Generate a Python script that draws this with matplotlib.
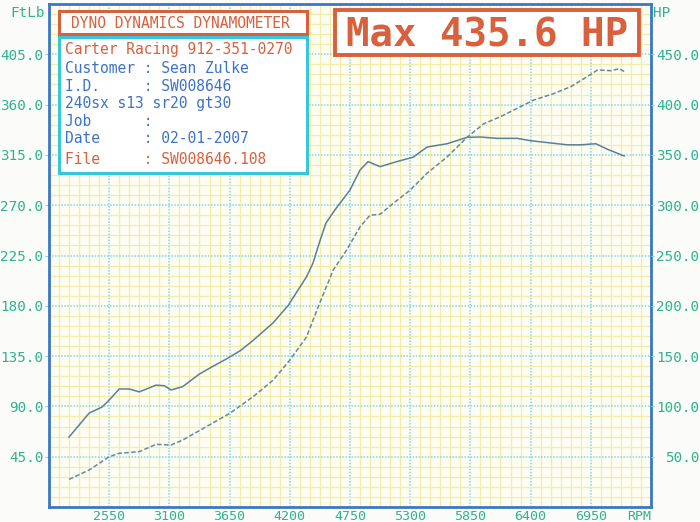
"""Dyno sheet redraw: torque (FtLb, left) and power (HP, right) against RPM."""
import numpy as np
import matplotlib
matplotlib.use("Agg")
import matplotlib.pyplot as plt
from matplotlib.patches import Rectangle
from matplotlib.ticker import FixedLocator

# --- data --------------------------------------------------------------
torque_rpm = [2183, 2367, 2486, 2550, 2642, 2733, 2825, 2978, 3054, 3115,
              3220, 3375, 3500, 3620, 3750, 3864, 4046, 4183, 4353, 4411,
              4475, 4530, 4612, 4750, 4842, 4915, 5025, 5178, 5328, 5453,
              5637, 5820, 5942, 6095, 6278, 6400, 6553, 6737, 6858, 6996,
              7103, 7255]
torque_ftlb = [62.6, 84.0, 89.5, 95.7, 105.6, 105.6, 103.0, 109.0, 108.5, 104.7,
               107.6, 119.0, 126.0, 132.4, 140.0, 149.0, 164.6, 180.0, 206.0, 218.0,
               238.0, 254.0, 265.7, 283.6, 301.5, 309.0, 304.5, 309.0, 313.0, 322.0,
               325.0, 330.7, 331.0, 329.8, 329.8, 327.7, 326.0, 324.0, 324.0, 325.0,
               320.0, 314.0]

power_rpm = [2183, 2367, 2550, 2642, 2825, 2978, 3115, 3222, 3437, 3650,
             3864, 4047, 4200, 4353, 4470, 4597, 4720, 4842, 4933, 5025,
             5147, 5300, 5453, 5637, 5820, 5972, 6125, 6308, 6430, 6613,
             6767, 6890, 7012, 7133, 7210, 7255]
power_hp = [27.5, 36.8, 50.0, 53.4, 55.0, 62.3, 61.6, 66.6, 79.8, 93.0,
            109.6, 126.0, 146.0, 169.0, 202.0, 235.6, 255.5, 278.6, 290.0, 291.0,
            302.0, 315.0, 331.7, 348.0, 367.5, 381.0, 388.0, 398.0, 404.6, 411.0,
            417.8, 426.0, 434.4, 433.7, 435.6, 433.0]

rpm_ticks = [2550, 3100, 3650, 4200, 4750, 5300, 5850, 6400, 6950]
ftlb_ticks = [45, 90, 135, 180, 225, 270, 315, 360, 405]
hp_ticks = [50, 100, 150, 200, 250, 300, 350, 400, 450]

header_lines = [
    ("Carter Racing 912-351-0270", "orange"),
    ("Customer : Sean Zulke", "blue"),
    ("I.D.     : SW008646", "blue"),
    ("240sx s13 sr20 gt30", "blue"),
    ("Job      :", "blue"),
    ("Date     : 02-01-2007", "blue"),
    ("File     : SW008646.108", "orange"),
]
max_hp = max(power_hp)

# --- styling ----------------------------------------------------------
W, H, DPI = 700, 522, 100
ORANGE = "#d8603c"
BLUE = "#3d72c9"
TEAL = "#2fb38e"
FRAME = "#3b77c6"
CYAN = "#84d6e6"
YELLOW = "#f4ecab"
CURVE = "#58809a"
MONO = "DejaVu Sans Mono"
colors = {"orange": ORANGE, "blue": BLUE}


def fx(px):
    return px / W


def fy(py):
    return 1 - py / H


fig = plt.figure(figsize=(W / DPI, H / DPI), dpi=DPI, facecolor="#fbfcfa")
ax = fig.add_axes([fx(49), fy(507), fx(602), 503 / H])
ax.set_facecolor("#fefdf2")
ax.set_xlim(2000, 7500)
ax.set_ylim(0, 450)

# paper grid: yellow minor, cyan dotted major
ax.xaxis.set_minor_locator(FixedLocator(np.arange(2000, 7500, 550 / 6)))
ax.yaxis.set_minor_locator(FixedLocator(np.arange(0, 450, 9)))
ax.grid(which="minor", color=YELLOW, lw=0.9, zorder=0)
ax.set_xticks(rpm_ticks + [7500])
ax.set_xticklabels([str(r) for r in rpm_ticks] + ["RPM"])
ax.set_yticks(ftlb_ticks)
ax.set_yticklabels([f"{v:.1f}" for v in ftlb_ticks])
ax.grid(which="major", color=CYAN, lw=1.1, ls=(0, (1, 1)), zorder=0)
ax.set_axisbelow(True)
ax.tick_params(which="minor", length=0)
ax.tick_params(axis="x", length=0, pad=2, labelcolor=TEAL, labelsize=9.6)
ax.tick_params(axis="y", length=3, color=CYAN, pad=1, labelcolor=TEAL,
               labelsize=10.3)
for lbl in ax.get_xticklabels() + ax.get_yticklabels():
    lbl.set_family(MONO)
ax.get_xticklabels()[-1].set_horizontalalignment("right")
for s in ax.spines.values():
    s.set_color(FRAME)
    s.set_linewidth(2)

ax.plot(torque_rpm, torque_ftlb, color=CURVE, lw=1.1, zorder=3)

ax2 = ax.twinx()
ax2.set_ylim(0, 500)
ax2.set_yticks(hp_ticks)
ax2.set_yticklabels([f"{v:.1f}" for v in hp_ticks])
ax2.tick_params(axis="y", length=2, color=CYAN, pad=33, labelcolor=TEAL,
                labelsize=10.3)
for lbl in ax2.get_yticklabels():
    lbl.set_family(MONO)
    lbl.set_horizontalalignment("right")
for s in ax2.spines.values():
    s.set_visible(False)
ax2.plot(power_rpm, power_hp, color="#5d8ba2", lw=1.1, ls=(0, (3, 1.5)),
         zorder=3)

# axis unit captions
fig.text(fx(45), fy(17), "FtLb", ha="right", va="baseline", color=TEAL,
         family=MONO, fontsize=10.3)
fig.text(fx(653), fy(17), "HP", ha="left", va="baseline", color=TEAL,
         family=MONO, fontsize=10.3)


# header boxes
def box(x0, y0, x1, y1, ec, lw):
    fig.patches.append(Rectangle((fx(x0), fy(y1)), fx(x1 - x0), (y1 - y0) / H,
                                 transform=fig.transFigure, facecolor="white",
                                 edgecolor=ec, lw=lw, zorder=5))


box(59, 11, 307, 34, ORANGE, 2.2)
fig.text(fx(180), fy(27.8), "DYNO DYNAMICS DYNAMOMETER", ha="center",
         va="baseline", color=ORANGE, family=MONO, fontsize=10.5, zorder=6)

box(59, 37, 307, 173, "#38c6dc", 2.2)
baselines = [53.6, 73.3, 90.6, 108.3, 125.6, 143.0, 163.6]
for (txt, c), yb in zip(header_lines, baselines):
    fig.text(fx(65), fy(yb), txt, ha="left", va="baseline", color=colors[c],
             family=MONO, fontsize=10.5, zorder=6)

box(335, 10, 639, 55, ORANGE, 2.8)
fig.text(fx(487), fy(46.7), f"Max {max_hp:.1f} HP", ha="center", va="baseline",
         color=ORANGE, family=MONO, fontsize=28.2, fontweight="bold", zorder=6)

fig.savefig("out.png", dpi=DPI, facecolor=fig.get_facecolor())
